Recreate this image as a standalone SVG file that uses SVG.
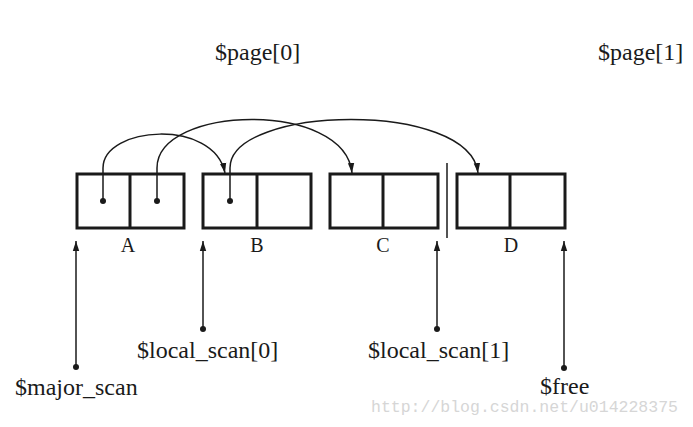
<svg xmlns="http://www.w3.org/2000/svg" width="693" height="427" viewBox="0 0 693 427">
<style>
.box{fill:#fff;stroke:#1a1a1a;stroke-width:3}
.div{stroke:#1a1a1a;stroke-width:3}
.t{font-family:"Liberation Serif","Times New Roman",serif;font-size:24px;fill:#1a1a1a}
.lbl{font-family:"Liberation Serif","Times New Roman",serif;font-size:20px;fill:#1a1a1a;text-anchor:middle}
.con{fill:none;stroke:#1a1a1a;stroke-width:1.5}
.dot{fill:#1a1a1a}
.wm{font-family:"Liberation Mono","Courier New",monospace;font-size:16.5px;fill:#d6d6d6}
</style>
<defs>
<marker id="ah" viewBox="0 0 10 10" refX="10" refY="5" markerWidth="10" markerHeight="10" markerUnits="userSpaceOnUse" orient="auto">
<path d="M0,1.8 L10,5 L0,8.2 Z" fill="#1a1a1a"/>
</marker>
</defs>
<rect width="693" height="427" fill="#fff"/>
<text class="t" x="215" y="60">$page[0]</text>
<text class="t" x="598" y="60">$page[1]</text>
<g id="nodeA">
<rect class="box" x="77" y="174" width="107" height="54"/>
<line class="div" x1="130" y1="174" x2="130" y2="228"/>
<text class="lbl" x="128" y="252">A</text>
</g>
<g id="nodeB">
<rect class="box" x="203" y="174" width="108" height="54"/>
<line class="div" x1="257" y1="174" x2="257" y2="228"/>
<text class="lbl" x="257" y="252">B</text>
</g>
<g id="nodeC">
<rect class="box" x="330" y="174" width="108" height="54"/>
<line class="div" x1="383" y1="174" x2="383" y2="228"/>
<text class="lbl" x="383" y="252">C</text>
</g>
<g id="nodeD">
<rect class="box" x="457" y="174" width="108" height="54"/>
<line class="div" x1="510" y1="174" x2="510" y2="228"/>
<text class="lbl" x="511" y="252">D</text>
</g>
<line x1="447" y1="163" x2="447" y2="238" stroke="#1a1a1a" stroke-width="1.5"/>
<g id="connectors">
<path class="con" d="M103,201 V168 C103,126 214,118 225,173" marker-end="url(#ah)"/>
<path class="con" d="M157,201 V168 C157,105 345,100 352,173" marker-end="url(#ah)"/>
<path class="con" d="M230,201 V168 C230,105 470,100 478,173" marker-end="url(#ah)"/>
<circle class="dot" cx="103" cy="201" r="3"/>
<circle class="dot" cx="157" cy="201" r="3"/>
<circle class="dot" cx="230" cy="201" r="3"/>
<path class="con" d="M76,367 V241" marker-end="url(#ah)"/>
<path class="con" d="M203,329 V241" marker-end="url(#ah)"/>
<path class="con" d="M437,329 V241" marker-end="url(#ah)"/>
<path class="con" d="M564,368 V241" marker-end="url(#ah)"/>
<circle class="dot" cx="76" cy="367" r="3"/>
<circle class="dot" cx="203" cy="329" r="3"/>
<circle class="dot" cx="437" cy="329" r="3"/>
<circle class="dot" cx="564" cy="368" r="3"/>
</g>
<g id="ptr-major"><text class="t" x="15" y="395">$major_scan</text></g>
<g id="ptr-local0"><text class="t" x="137" y="358">$local_scan[0]</text></g>
<g id="ptr-local1"><text class="t" x="368" y="358">$local_scan[1]</text></g>
<g id="ptr-free"><text class="t" x="540" y="394">$free</text></g>
<text class="wm" x="371" y="412">http://blog.csdn.net/u014228375</text>
</svg>
